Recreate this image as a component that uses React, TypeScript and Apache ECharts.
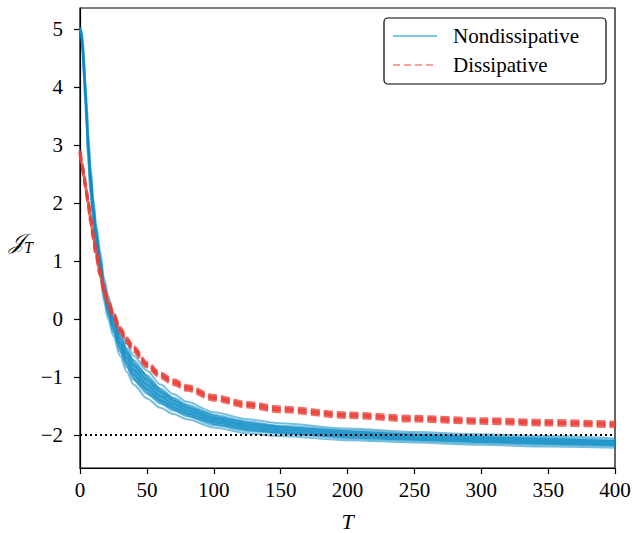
import React, { useEffect, useRef } from "react";
import * as echarts from "echarts";

const T = [0, 1, 2, 3, 4, 5, 6, 8, 10, 12, 15, 18, 21, 25, 30, 35, 40, 50, 60, 70, 80, 100, 125, 150, 200, 250, 300, 350, 400];

const blue1 = [5.03, 4.98, 4.85, 4.5, 4.12, 3.75, 3.25, 2.6, 2.07, 1.65, 1.17, 0.7, 0.4, 0.1, -0.2, -0.43, -0.63, -0.89, -1.13, -1.3, -1.43, -1.61, -1.73, -1.8, -1.89, -1.95, -1.99, -2.02, -2.06];
const blue2 = [5.02, 4.95, 4.8, 4.43, 4.05, 3.67, 3.17, 2.52, 2.0, 1.58, 1.1, 0.63, 0.33, 0.03, -0.27, -0.51, -0.71, -0.97, -1.2, -1.36, -1.48, -1.65, -1.77, -1.84, -1.92, -1.98, -2.02, -2.05, -2.09];
const blue3 = [5.01, 4.93, 4.75, 4.37, 3.97, 3.58, 3.08, 2.43, 1.92, 1.52, 1.04, 0.57, 0.27, -0.03, -0.35, -0.59, -0.8, -1.05, -1.26, -1.41, -1.53, -1.7, -1.81, -1.87, -1.96, -2.01, -2.05, -2.08, -2.11];
const blue4 = [5.0, 4.9, 4.7, 4.3, 3.9, 3.5, 3.0, 2.35, 1.85, 1.45, 0.97, 0.5, 0.2, -0.1, -0.42, -0.67, -0.88, -1.13, -1.33, -1.47, -1.58, -1.74, -1.85, -1.91, -1.99, -2.04, -2.08, -2.11, -2.14];
const blue5 = [4.99, 4.87, 4.65, 4.23, 3.83, 3.42, 2.92, 2.27, 1.78, 1.38, 0.9, 0.43, 0.13, -0.17, -0.49, -0.75, -0.96, -1.21, -1.4, -1.53, -1.63, -1.78, -1.89, -1.95, -2.02, -2.07, -2.11, -2.14, -2.17];
const blue6 = [4.98, 4.85, 4.6, 4.17, 3.75, 3.33, 2.83, 2.18, 1.7, 1.32, 0.84, 0.37, 0.07, -0.23, -0.57, -0.83, -1.05, -1.29, -1.46, -1.58, -1.68, -1.83, -1.93, -1.98, -2.06, -2.1, -2.14, -2.17, -2.19];
const blue7 = [4.97, 4.82, 4.55, 4.1, 3.68, 3.25, 2.75, 2.1, 1.63, 1.25, 0.77, 0.3, 0.0, -0.3, -0.64, -0.91, -1.13, -1.37, -1.53, -1.64, -1.73, -1.87, -1.97, -2.02, -2.09, -2.13, -2.17, -2.2, -2.22];

const red1 = [2.91, 2.77, 2.63, 2.49, 2.35, 2.2, 2.05, 1.75, 1.45, 1.17, 0.83, 0.55, 0.32, 0.1, -0.15, -0.33, -0.48, -0.75, -0.93, -1.05, -1.15, -1.32, -1.44, -1.52, -1.62, -1.68, -1.72, -1.75, -1.78];
const red2 = [2.88, 2.74, 2.6, 2.46, 2.32, 2.17, 2.02, 1.72, 1.42, 1.14, 0.8, 0.52, 0.29, 0.07, -0.18, -0.36, -0.51, -0.78, -0.96, -1.08, -1.18, -1.35, -1.47, -1.55, -1.65, -1.71, -1.75, -1.78, -1.81];
const red3 = [2.86, 2.72, 2.58, 2.44, 2.3, 2.15, 2.0, 1.7, 1.4, 1.12, 0.78, 0.5, 0.27, 0.05, -0.2, -0.38, -0.53, -0.8, -0.98, -1.1, -1.2, -1.37, -1.49, -1.57, -1.67, -1.73, -1.77, -1.8, -1.83];
const red4 = [2.83, 2.69, 2.55, 2.41, 2.27, 2.12, 1.97, 1.67, 1.37, 1.09, 0.75, 0.47, 0.24, 0.02, -0.23, -0.41, -0.56, -0.83, -1.01, -1.13, -1.23, -1.4, -1.52, -1.6, -1.7, -1.76, -1.8, -1.83, -1.86];

const blueSeries = [blue1, blue2, blue3, blue4, blue5, blue6, blue7];
const redSeries = [red1, red2, red3, red4];

const yTicks = [-2, -1, 0, 1, 2, 3, 4, 5];
const xRange = [0, 400];
const yRange = [-2.57, 5.36];
const referenceLevel = -2;

const NAME_BLUE = "Nondissipative";
const NAME_RED = "Dissipative";

const FONT = "'Liberation Serif', 'DejaVu Serif', serif";
const BLUE = "rgba(10,138,196,0.55)";
const BLUE_FILL = "rgba(10,138,196,0.72)";
const RED = "rgba(234,62,54,0.75)";

export default function App() {
  const ref = useRef<HTMLDivElement>(null);
  useEffect(() => {
    if (!ref.current) return;
    const chart = echarts.init(ref.current, undefined, { renderer: "svg" });
    const pair = (ys: number[]) => T.map((t, i) => [t, ys[i]]);
    const series: any[] = [];
    // filled envelope between the upper and lower nondissipative runs
    series.push({
      type: "custom",
      name: "band",
      data: [0],
      silent: true,
      clip: true,
      renderItem: (params: any, api: any) => {
        const upper = T.map((t, i) => api.coord([t, blue2[i]]));
        const lower = T.map((t, i) => api.coord([t, blue6[i]])).reverse();
        return {
          type: "polygon",
          shape: { points: upper.concat(lower) },
          style: { fill: BLUE_FILL, stroke: "none" },
        };
      },
    });
    blueSeries.forEach((ys) => {
      series.push({
        type: "line",
        name: NAME_BLUE,
        data: pair(ys),
        showSymbol: false,
        symbol: "none",
        smooth: 0.3,
        smoothMonotone: "x",
        lineStyle: { color: BLUE, width: 2 },
        silent: true,
      });
    });
    redSeries.forEach((ys) => {
      series.push({
        type: "line",
        name: NAME_RED,
        data: pair(ys),
        showSymbol: false,
        symbol: "none",
        smooth: 0.3,
        smoothMonotone: "x",
        lineStyle: { color: RED, width: 3, type: [9, 4] },
        silent: true,
      });
    });
    series.push({
      type: "line",
      name: "ref",
      data: [
        [xRange[0], referenceLevel],
        [xRange[1], referenceLevel],
      ],
      showSymbol: false,
      symbol: "none",
      lineStyle: { color: "#000", width: 2, type: [2, 3] },
      silent: true,
    });

    chart.setOption({
      animation: false,
      grid: {
        left: 80,
        right: 18,
        top: 8,
        bottom: 65,
        show: true,
        borderColor: "#000",
        borderWidth: 1.2,
        backgroundColor: "#fff",
        containLabel: false,
        outerBoundsMode: "none",
      },
      xAxis: {
        type: "value",
        min: xRange[0],
        max: xRange[1],
        interval: 50,
        splitLine: { show: false },
        axisLine: { show: true, onZero: false, lineStyle: { color: "#000", width: 1.2 } },
        axisTick: { show: true, length: 6, lineStyle: { color: "#000", width: 1.2 } },
        axisLabel: { color: "#000", fontFamily: FONT, fontSize: 21, margin: 11 },
        name: "T",
        nameLocation: "middle",
        nameGap: 42,
        nameTextStyle: { color: "#000", fontFamily: FONT, fontSize: 22, fontStyle: "italic" },
      },
      yAxis: {
        type: "value",
        min: yRange[0],
        max: yRange[1],
        splitLine: { show: false },
        axisLine: { show: true, onZero: false, lineStyle: { color: "#000", width: 1.2 } },
        axisTick: { show: true, length: 6, customValues: yTicks, lineStyle: { color: "#000", width: 1.2 } },
        axisLabel: {
          color: "#000",
          fontFamily: FONT,
          fontSize: 21,
          margin: 17,
          customValues: yTicks,
          formatter: (v: number) => (v < 0 ? "\u2212" + Math.abs(v) : String(v)),
        },
      },
      graphic: [
        {
          type: "group",
          z: 100,
          children: [
            {
              type: "rect",
              shape: { x: 384, y: 18, width: 222, height: 66, r: 4 },
              style: { fill: "rgba(255,255,255,0.85)", stroke: "#000", lineWidth: 1.2 },
            },
            {
              type: "line",
              shape: { x1: 393, y1: 36, x2: 437, y2: 36 },
              style: { stroke: "#7cc6e6", lineWidth: 2 },
            },
            {
              type: "line",
              shape: { x1: 393, y1: 65, x2: 437, y2: 65 },
              style: { stroke: "#f4a19c", lineWidth: 2, lineDash: [7, 4] },
            },
            {
              type: "text",
              x: 453,
              y: 36,
              style: { text: NAME_BLUE, fontFamily: FONT, fontSize: 21, fill: "#000", verticalAlign: "middle" },
            },
            {
              type: "text",
              x: 453,
              y: 65,
              style: { text: NAME_RED, fontFamily: FONT, fontSize: 21, fill: "#000", verticalAlign: "middle" },
            },
          ],
        },
        {
          type: "text",
          x: 9,
          y: 227,
          style: {
            text: "{j|\uD835\uDCA5}{t|T}",
            rich: {
              j: { fontFamily: "'DejaVu Sans', serif", fontSize: 22, fill: "#000", fontStyle: "italic" },
              t: { fontFamily: FONT, fontSize: 16, fill: "#000", fontStyle: "italic", padding: [12, 0, 0, 0] },
            },
          },
        },
      ],
      series,
    });
    return () => chart.dispose();
  }, []);
  return <div ref={ref} style={{ position: "absolute", left: 0, top: 0, width: 633, height: 533 }} />;
}
